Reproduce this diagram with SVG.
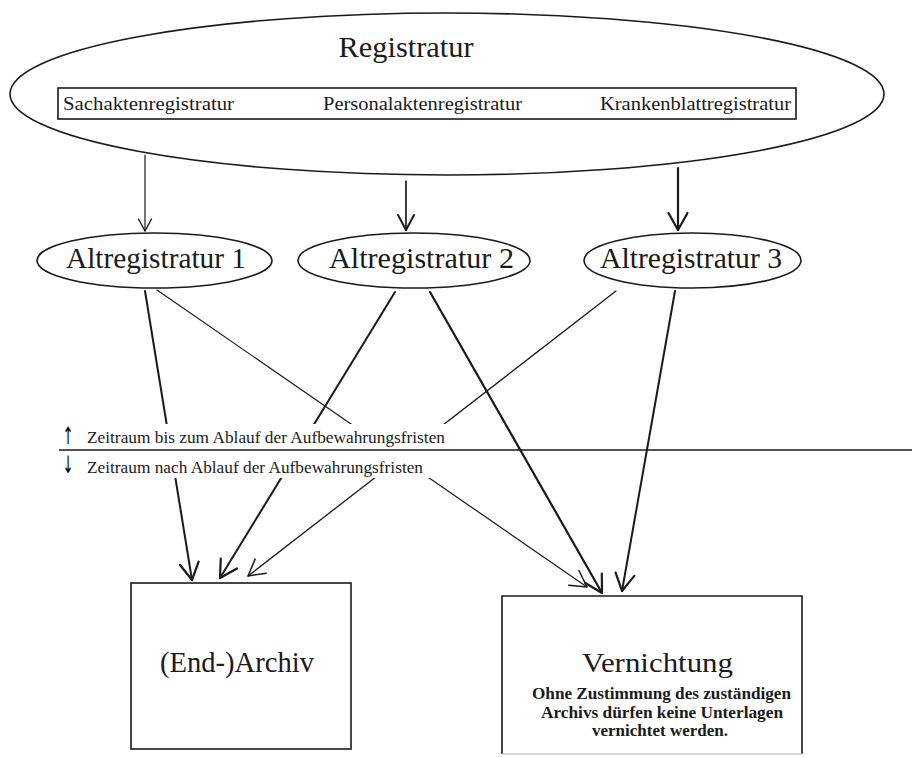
<svg xmlns="http://www.w3.org/2000/svg" width="912" height="758" viewBox="0 0 912 758">
<style>
.shape{fill:#fff;stroke:#1a1a1a;stroke-width:1.6}
.t{font-family:"Liberation Serif","Times New Roman",serif;fill:#1a1a1a}
.b{font-family:"Liberation Serif","Times New Roman",serif;font-weight:bold;fill:#1a1a1a}
.ar{font-family:"DejaVu Sans",sans-serif;fill:#000}
.c{fill:none;stroke:#1a1a1a;stroke-linecap:round}
</style>
<defs>
<marker id="ahS" markerUnits="userSpaceOnUse" orient="auto" markerWidth="24" markerHeight="24" refX="20" refY="12" overflow="visible">
<path d="M8,5.5 L20,12 L8,18.5" fill="none" stroke="#1a1a1a" stroke-width="1.4" stroke-linecap="round" stroke-linejoin="round"/>
</marker>
<marker id="ahM" markerUnits="userSpaceOnUse" orient="auto" markerWidth="24" markerHeight="24" refX="20" refY="12" overflow="visible">
<path d="M5,4 L20,12 L5,20" fill="none" stroke="#1a1a1a" stroke-width="2" stroke-linecap="round" stroke-linejoin="round"/>
</marker>
<marker id="ahT" markerUnits="userSpaceOnUse" orient="auto" markerWidth="24" markerHeight="24" refX="20" refY="12" overflow="visible">
<path d="M4,3 L20,12 L4,21" fill="none" stroke="#1a1a1a" stroke-width="1.5" stroke-linecap="round" stroke-linejoin="round"/>
</marker>
<marker id="ahL" markerUnits="userSpaceOnUse" orient="auto" markerWidth="24" markerHeight="24" refX="20" refY="12" overflow="visible">
<path d="M3,2.5 L20,12 L3,21.5" fill="none" stroke="#1a1a1a" stroke-width="2.2" stroke-linecap="round" stroke-linejoin="round"/>
</marker>
</defs>
<rect width="912" height="758" fill="#fff"/>

<g id="registratur">
<ellipse class="shape" cx="447" cy="94" rx="437" ry="81"/>
<text class="t" x="406" y="57" font-size="29" text-anchor="middle" textLength="135" lengthAdjust="spacingAndGlyphs">Registratur</text>
<rect class="shape" x="58" y="88" width="738" height="31" stroke-width="1.4"/>
<text class="t" x="63" y="110" font-size="18" textLength="171" lengthAdjust="spacingAndGlyphs">Sachaktenregistratur</text>
<text class="t" x="323" y="110" font-size="18" textLength="199" lengthAdjust="spacingAndGlyphs">Personalaktenregistratur</text>
<text class="t" x="600" y="110" font-size="18" textLength="191" lengthAdjust="spacingAndGlyphs">Krankenblattregistratur</text>
</g>

<g id="altregistratur1">
<ellipse class="shape" cx="154.5" cy="260.5" rx="117.5" ry="27.5"/>
<text class="t" x="66" y="268" font-size="29" textLength="180" lengthAdjust="spacingAndGlyphs">Altregistratur 1</text>
</g>
<g id="altregistratur2">
<ellipse class="shape" cx="414" cy="260.5" rx="116" ry="27.5"/>
<text class="t" x="329" y="268" font-size="29" textLength="185" lengthAdjust="spacingAndGlyphs">Altregistratur 2</text>
</g>
<g id="altregistratur3">
<ellipse class="shape" cx="692.5" cy="260.5" rx="108.5" ry="27.5"/>
<text class="t" x="600" y="268" font-size="29" textLength="182" lengthAdjust="spacingAndGlyphs">Altregistratur 3</text>
</g>

<g id="archiv">
<rect class="shape" x="131" y="583" width="220" height="166"/>
<text class="t" x="237" y="672" font-size="29" text-anchor="middle" textLength="154" lengthAdjust="spacingAndGlyphs">(End-)Archiv</text>
</g>

<g id="vernichtung">
<path d="M502,754 L502,596 L802,596 L802,754" fill="#fff" stroke="#1a1a1a" stroke-width="1.6"/>
<line x1="502" y1="754" x2="802" y2="754" stroke="#c8c8c8" stroke-width="1.5"/>
<text class="t" x="657.5" y="672" font-size="27" text-anchor="middle" textLength="151" lengthAdjust="spacingAndGlyphs">Vernichtung</text>
<text class="b" x="661.5" y="699" font-size="16" text-anchor="middle" textLength="259" lengthAdjust="spacingAndGlyphs">Ohne Zustimmung des zuständigen</text>
<text class="b" x="662" y="718" font-size="16" text-anchor="middle" textLength="242" lengthAdjust="spacingAndGlyphs">Archivs dürfen keine Unterlagen</text>
<text class="b" x="660" y="736" font-size="16" text-anchor="middle" textLength="136" lengthAdjust="spacingAndGlyphs">vernichtet werden.</text>
</g>

<g id="connectors">
<line class="c" x1="145" y1="155" x2="145" y2="231" stroke-width="1.2" marker-end="url(#ahS)"/>
<line class="c" x1="406" y1="181" x2="406" y2="230" stroke-width="1.7" marker-end="url(#ahM)"/>
<line class="c" x1="678" y1="168" x2="678" y2="230" stroke-width="2.2" marker-end="url(#ahL)"/>
<line class="c" x1="145" y1="291" x2="192" y2="580" stroke-width="2" marker-end="url(#ahL)"/>
<line class="c" x1="157" y1="290" x2="587" y2="587" stroke-width="1.2" marker-end="url(#ahT)"/>
<line class="c" x1="395" y1="292" x2="220" y2="578" stroke-width="2" marker-end="url(#ahL)"/>
<line class="c" x1="430" y1="292" x2="602" y2="593" stroke-width="2.2" marker-end="url(#ahL)"/>
<line class="c" x1="616" y1="291" x2="248" y2="576" stroke-width="1.3" marker-end="url(#ahT)"/>
<line class="c" x1="675" y1="291" x2="622" y2="591" stroke-width="2" marker-end="url(#ahL)"/>
</g>

<g id="zeitraum">
<rect x="84" y="424" width="366" height="54" fill="#fff"/>
<line x1="59" y1="450" x2="912" y2="450" stroke="#1a1a1a" stroke-width="1.6"/>
<text class="ar" x="0" y="0" font-size="24" text-anchor="middle" transform="translate(68 444) scale(0.55 1)">↑</text>
<text class="ar" x="0" y="0" font-size="24" text-anchor="middle" transform="translate(68 473) scale(0.55 1)">↓</text>
<text class="t" x="87" y="443" font-size="17" textLength="358" lengthAdjust="spacingAndGlyphs">Zeitraum bis zum Ablauf der Aufbewahrungsfristen</text>
<text class="t" x="87" y="473" font-size="17" textLength="336" lengthAdjust="spacingAndGlyphs">Zeitraum nach Ablauf der Aufbewahrungsfristen</text>
</g>
</svg>
